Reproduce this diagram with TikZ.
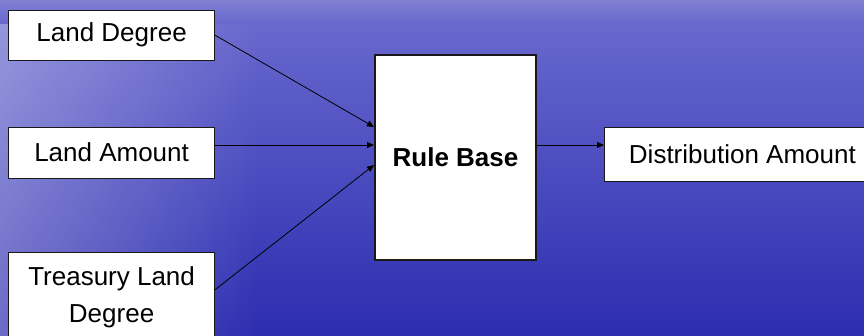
\documentclass[tikz,border=0pt]{standalone}
\usepackage{fontspec}
\setmainfont{Liberation Sans}
\usepackage{tikz}
\usetikzlibrary{positioning,arrows.meta,fadings}
\definecolor{skyband}{RGB}{178,178,232}
\definecolor{skytop}{RGB}{128,128,212}
\definecolor{seatop}{RGB}{104,104,206}
\definecolor{seabot}{RGB}{44,44,176}
\tikzset{box/.style={draw=black!90,fill=white,line width=0.8pt,font=\fontsize{26}{37}\selectfont}}
\tikzset{inbox/.style={box,minimum width=206pt,minimum height=51pt}}
\tikzset{rulebox/.style={box,line width=2pt,minimum width=161pt,minimum height=205pt,font=\fontsize{26}{37}\selectfont\bfseries}}
\tikzset{outbox/.style={box,minimum width=276pt,minimum height=54pt}}
\tikzset{arr/.style={draw,line width=0.8pt,-{Triangle[length=7pt,width=6pt]}}}

\begin{document}
\begin{tikzpicture}[x=1pt,y=1pt]
    \useasboundingbox (0,0) rectangle (864,336);
    \clip (0,0) rectangle (864,336);
    % sea and sky behind the boxes
    \fill[top color=seatop,bottom color=seabot] (0,0) rectangle (864,312);
    \fill[top color=skytop,middle color=skyband,bottom color=seatop] (0,312) rectangle (864,336);
    \fill[white,opacity=0.3,path fading=east] (0,0) rectangle (260,312);

    \node[rulebox] (rb) at (455.5,178.5) {Rule Base};
    \node[outbox,right=67pt of rb,yshift=3.5pt] (dist) {Distribution Amount};
        \path[arr] ([yshift=12.5pt]rb.east) -- ([yshift=9pt]dist.west);
    \node[inbox,left=159pt of rb,yshift=5pt] (amt) {Land Amount};
        \path[arr] ([yshift=7.5pt]amt.east) -- ([yshift=12.5pt]rb.west);
    \node[inbox,above=66pt of amt,minimum height=50pt] (deg) {Land Degree};
        \path[arr] (deg.east) -- ([yshift=30.5pt]rb.west);
    \node[inbox,below=74pt of amt,minimum height=88pt,align=center] (tre) {Treasury Land\\Degree};
        \path[arr] ([yshift=7pt]tre.east) -- ([yshift=-7.5pt]rb.west);
\end{tikzpicture}
\end{document}
